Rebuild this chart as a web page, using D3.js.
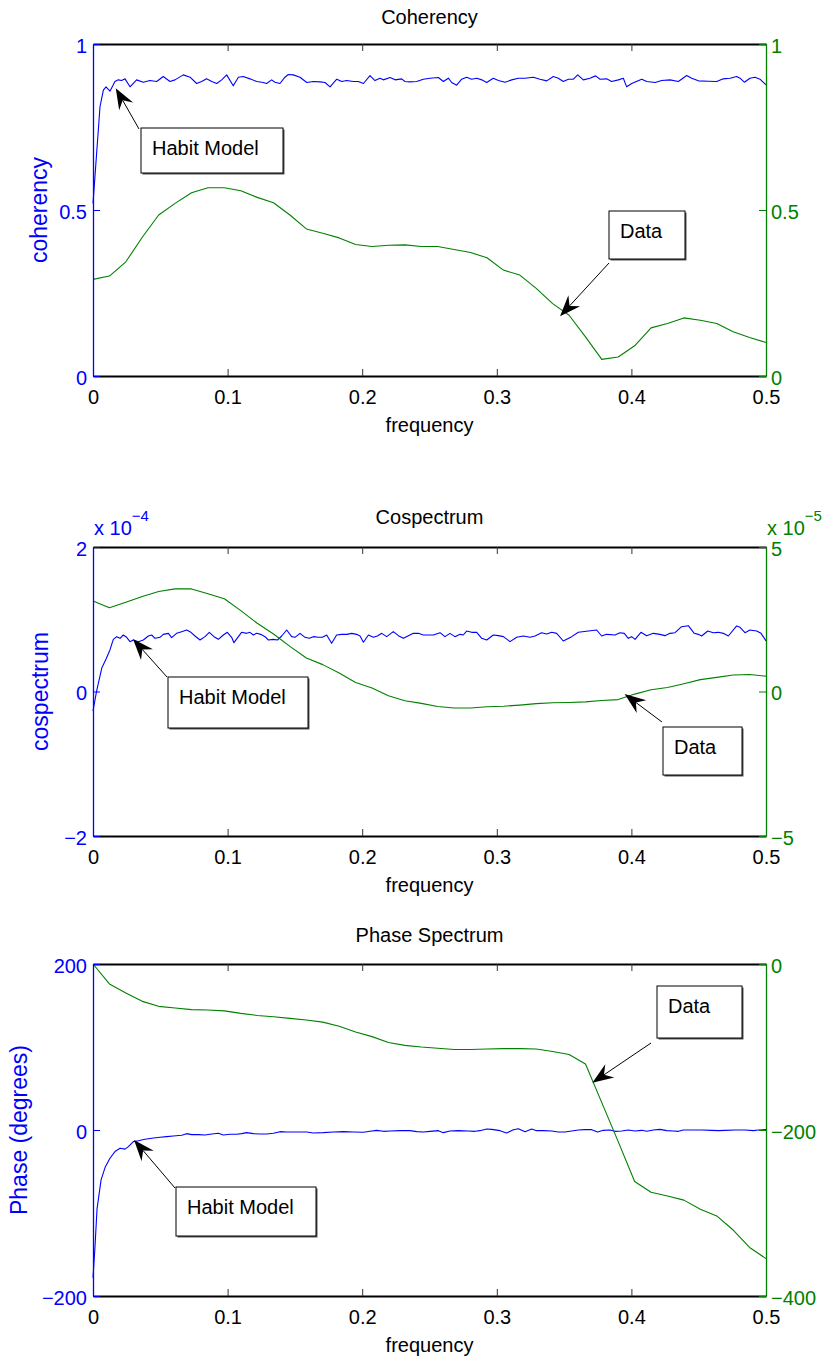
<!DOCTYPE html>
<html>
<head>
<meta charset="utf-8">
<script src="https://cdnjs.cloudflare.com/ajax/libs/d3/7.8.5/d3.min.js"></script>
<style>
  body { margin: 0; background: #fff; }
</style>
</head>
<body>
<div id="chart"></div>
<script>
var svgWidth = 822;
var svgHeight = 1364;
var margin = { left: 93, right: 56 };
var width = svgWidth - margin.left - margin.right;

var fontFamily = "Arial, 'Liberation Sans', Helvetica, sans-serif";
var blue = "#0000ff";
var green = "#008000";

// frequency grid of the "Data" (green) estimates
var dataFreq = [0, 0.0122, 0.0244, 0.0366, 0.0488, 0.0610, 0.0732, 0.0854, 0.0976, 0.1098,
  0.1220, 0.1341, 0.1463, 0.1585, 0.1707, 0.1829, 0.1951, 0.2073, 0.2195, 0.2317,
  0.2439, 0.2561, 0.2683, 0.2805, 0.2927, 0.3049, 0.3171, 0.3293, 0.3415, 0.3537,
  0.3659, 0.3780, 0.3902, 0.4024, 0.4146, 0.4268, 0.4390, 0.4512, 0.4634, 0.4756,
  0.4878, 0.5];

var xTicks = [0, 0.1, 0.2, 0.3, 0.4, 0.5];

// Coherency
var cohData = [0.291, 0.301, 0.344, 0.418, 0.485, 0.520, 0.552, 0.567, 0.567, 0.558,
  0.538, 0.522, 0.485, 0.443, 0.430, 0.416, 0.396, 0.390, 0.394, 0.395,
  0.390, 0.390, 0.381, 0.372, 0.356, 0.319, 0.304, 0.264, 0.218, 0.183,
  0.118, 0.050, 0.057, 0.091, 0.145, 0.158, 0.175, 0.168, 0.158, 0.133,
  0.116, 0.101];

var cohModel = [[0,0.52],[0.0052,0.811],[0.0077,0.861],[0.0097,0.871],[0.0126,0.858],[0.0163,0.887],
  [0.0188,0.892],[0.0213,0.890],[0.0238,0.895],[0.0275,0.871],[0.0324,0.892],[0.0374,0.885],
  [0.0423,0.890],[0.0473,0.887],[0.0522,0.902],[0.0572,0.887],[0.0609,0.892],[0.0671,0.907],
  [0.0721,0.900],[0.0770,0.881],[0.0807,0.887],[0.0844,0.895],[0.0882,0.887],[0.0919,0.881],
  [0.0956,0.892],[0.0993,0.907],[0.1042,0.874],[0.1080,0.900],[0.1117,0.902],[0.1166,0.895],
  [0.1216,0.887],[0.1265,0.884],[0.1290,0.881],[0.1327,0.892],[0.1352,0.885],[0.1389,0.881],
  [0.1426,0.900],[0.1451,0.908],[0.1488,0.907],[0.1538,0.900],[0.1588,0.884],[0.1637,0.887],
  [0.1687,0.886],[0.1724,0.884],[0.1761,0.871],[0.1811,0.894],[0.1848,0.887],[0.1885,0.890],
  [0.1934,0.887],[0.1971,0.887],[0.2009,0.881],[0.2058,0.905],[0.2095,0.890],[0.2132,0.897],
  [0.2157,0.892],[0.2207,0.899],[0.2244,0.892],[0.2293,0.895],[0.2318,0.887],[0.2355,0.886],
  [0.2405,0.887],[0.2454,0.894],[0.2504,0.897],[0.2566,0.899],[0.2603,0.887],[0.2640,0.897],
  [0.2665,0.884],[0.2702,0.876],[0.2739,0.894],[0.2776,0.900],[0.2813,0.894],[0.2851,0.897],
  [0.2888,0.892],[0.2925,0.884],[0.2974,0.897],[0.3012,0.890],[0.3061,0.885],[0.3111,0.892],
  [0.3160,0.897],[0.3210,0.897],[0.3271,0.900],[0.3321,0.894],[0.3371,0.889],[0.3420,0.902],
  [0.3457,0.897],[0.3494,0.887],[0.3532,0.894],[0.3569,0.894],[0.3601,0.907],[0.3643,0.892],
  [0.3692,0.897],[0.3734,0.904],[0.3767,0.894],[0.3816,0.895],[0.3853,0.887],[0.3903,0.892],
  [0.3940,0.897],[0.3965,0.871],[0.4002,0.881],[0.4077,0.894],[0.4114,0.887],[0.4176,0.884],
  [0.4225,0.890],[0.4287,0.892],[0.4349,0.887],[0.4411,0.905],[0.4448,0.897],[0.4498,0.889],
  [0.4572,0.888],[0.4634,0.887],[0.4683,0.895],[0.4733,0.897],[0.4782,0.902],[0.4807,0.897],
  [0.4839,0.885],[0.4881,0.897],[0.4918,0.900],[0.4955,0.894],[0.5,0.877]];

// Cospectrum (model in units of 1e-4, data in units of 1e-5)
var cospecData = [3.13, 2.90, 3.09, 3.29, 3.46, 3.55, 3.55, 3.38, 3.21, 2.80,
  2.36, 1.99, 1.56, 1.16, 0.93, 0.64, 0.31, 0.12, -0.15, -0.32,
  -0.41, -0.52, -0.57, -0.57, -0.53, -0.51, -0.47, -0.42, -0.39, -0.38,
  -0.36, -0.31, -0.28, -0.09, 0.06, 0.14, 0.27, 0.41, 0.49, 0.57,
  0.59, 0.53];

var cospecModel = [[0,-0.27],[0.0027,0.01],[0.0066,0.33],[0.0097,0.45],[0.0126,0.575],[0.0151,0.722],
  [0.0176,0.759],[0.0201,0.736],[0.0225,0.782],[0.0250,0.750],[0.0275,0.690],[0.0300,0.713],
  [0.0337,0.690],[0.0374,0.713],[0.0411,0.768],[0.0436,0.782],[0.0461,0.736],[0.0498,0.750],
  [0.0522,0.791],[0.0560,0.805],[0.0584,0.745],[0.0621,0.805],[0.0659,0.828],[0.0696,0.851],
  [0.0721,0.828],[0.0758,0.768],[0.0795,0.713],[0.0832,0.759],[0.0864,0.819],[0.0899,0.759],
  [0.0931,0.722],[0.0968,0.782],[0.0998,0.819],[0.1030,0.750],[0.1047,0.676],[0.1080,0.759],
  [0.1104,0.819],[0.1141,0.805],[0.1166,0.819],[0.1191,0.782],[0.1216,0.805],[0.1246,0.791],
  [0.1278,0.759],[0.1303,0.713],[0.1340,0.722],[0.1370,0.713],[0.1402,0.768],[0.1439,0.851],
  [0.1476,0.759],[0.1501,0.750],[0.1538,0.805],[0.1575,0.750],[0.1607,0.736],[0.1637,0.759],
  [0.1674,0.750],[0.1704,0.750],[0.1736,0.782],[0.1773,0.667],[0.1810,0.782],[0.1847,0.791],
  [0.1885,0.791],[0.1922,0.805],[0.1959,0.791],[0.1984,0.768],[0.2009,0.681],[0.2046,0.782],
  [0.2083,0.750],[0.2113,0.768],[0.2145,0.805],[0.2182,0.759],[0.2231,0.828],[0.2269,0.773],
  [0.2306,0.736],[0.2343,0.773],[0.2380,0.805],[0.2417,0.805],[0.2454,0.782],[0.2529,0.782],
  [0.2578,0.814],[0.2615,0.759],[0.2652,0.805],[0.2689,0.759],[0.2727,0.791],[0.2751,0.782],
  [0.2776,0.837],[0.2813,0.819],[0.2851,0.819],[0.2888,0.736],[0.2925,0.713],[0.2974,0.782],
  [0.3012,0.773],[0.3049,0.759],[0.3098,0.690],[0.3148,0.750],[0.3197,0.768],[0.3247,0.750],
  [0.3284,0.768],[0.3333,0.814],[0.3371,0.796],[0.3408,0.819],[0.3445,0.805],[0.3494,0.699],
  [0.3556,0.759],[0.3606,0.819],[0.3680,0.837],[0.3742,0.851],[0.3779,0.768],[0.3816,0.791],
  [0.3878,0.782],[0.3915,0.814],[0.3947,0.805],[0.3977,0.736],[0.4002,0.759],[0.4027,0.722],
  [0.4071,0.819],[0.4113,0.773],[0.4163,0.805],[0.4212,0.791],[0.4249,0.773],[0.4287,0.805],
  [0.4324,0.814],[0.4373,0.897],[0.4423,0.911],[0.4467,0.805],[0.4497,0.791],[0.4522,0.768],
  [0.4567,0.837],[0.4609,0.814],[0.4646,0.819],[0.4683,0.805],[0.4720,0.768],[0.4782,0.907],
  [0.4807,0.888],[0.4844,0.814],[0.4881,0.851],[0.4931,0.837],[0.4963,0.805],[0.5,0.70]];

// Phase spectrum (degrees)
var phaseData = [0, -24, -35, -45, -51, -53, -55, -55.5, -56.5, -59.5,
  -62, -63.5, -65.5, -67.5, -70, -75, -82, -87.5, -94.5, -98,
  -100, -101.5, -103, -103, -102.5, -102, -102, -102.5, -105.5, -109,
  -120.5, -167, -214, -262, -275, -279.5, -284.5, -295.5, -303.5, -320.5,
  -341.5, -355];

var phaseModel = [[0,-178],[0.0015,-140],[0.0030,-95],[0.0060,-60],[0.0090,-45],[0.0126,-34],
  [0.0163,-26],[0.0201,-22],[0.0238,-23],[0.0263,-20],[0.0287,-16],[0.0300,-14],[0.0337,-12.9],
  [0.0386,-11.2],[0.0436,-10.0],[0.0498,-8.8],[0.0547,-8.0],[0.0597,-7.2],[0.0659,-6.4],
  [0.0696,-4.4],[0.0733,-5.6],[0.0783,-5.6],[0.0832,-6.0],[0.0882,-4.8],[0.0931,-4.0],
  [0.0968,-6.0],[0.1018,-5.2],[0.1067,-5.2],[0.1104,-4.4],[0.1141,-3.2],[0.1191,-4.4],
  [0.1241,-4.8],[0.1290,-4.8],[0.1340,-4.0],[0.1389,-2.0],[0.1439,-2.4],[0.1513,-2.4],
  [0.1588,-2.4],[0.1637,-3.6],[0.1711,-3.2],[0.1786,-2.4],[0.1860,-2.0],[0.1934,-2.4],
  [0.2009,-2.8],[0.2058,-1.6],[0.2108,-0.4],[0.2157,-1.6],[0.2207,-1.2],[0.2281,-0.8],
  [0.2355,-0.8],[0.2405,-2.0],[0.2454,-2.4],[0.2504,-1.6],[0.2566,-0.8],[0.2603,-3.2],
  [0.2652,-1.2],[0.2714,-0.8],[0.2789,-1.2],[0.2838,-1.6],[0.2875,-0.8],[0.2925,1.2],
  [0.2962,0.8],[0.3024,-0.8],[0.3073,-3.6],[0.3123,0.4],[0.3160,1.6],[0.3210,-2.0],
  [0.3259,1.2],[0.3296,-0.8],[0.3346,-0.8],[0.3408,-1.2],[0.3457,-2.4],[0.3507,-2.4],
  [0.3556,-1.2],[0.3606,0],[0.3655,0.4],[0.3705,0.4],[0.3749,-2.4],[0.3791,-0.4],[0.3841,0],
  [0.3878,-1.6],[0.3928,-1.2],[0.3977,0],[0.4027,-1.2],[0.4077,-0.4],[0.4114,-1.6],[0.4163,0],
  [0.4213,0.8],[0.4262,-0.8],[0.4312,-1.2],[0.4349,-1.6],[0.4386,0],[0.4448,0],[0.4522,0],
  [0.4597,-0.4],[0.4646,-0.8],[0.4696,-0.4],[0.4770,0],[0.4844,0],[0.4906,-0.8],[0.4944,0],
  [0.5,0.4]];

// panel layout
var panels = [
  { title: "Coherency", top: 44, height: 332, titleDy: -20,
    yLabel: "coherency", yLabelX: 47,
    leftDomain: [0, 1], leftTicks: [0, 0.5, 1],
    rightDomain: [0, 1], rightTicks: [0, 0.5, 1],
    model: cohModel, data: cohData,
    notes: [
      { text: "Habit Model", axis: "left", tip: [0.0169, 0.867], tail: [46, 85], box: [48, 84, 142, 45] },
      { text: "Data", axis: "right", tip: [0.347, 0.18], tail: [516, 219], box: [516, 167, 76, 48] }
    ] },
  { title: "Cospectrum", top: 547, height: 289, titleDy: -23,
    yLabel: "cospectrum", yLabelX: 48,
    leftDomain: [-2, 2], leftTicks: [-2, 0, 2], leftExp: "−4",
    rightDomain: [-5, 5], rightTicks: [-5, 0, 5], rightExp: "−5",
    model: cospecModel, data: cospecData,
    notes: [
      { text: "Habit Model", axis: "left", tip: [0.0297, 0.727], tail: [74, 130], box: [75, 130, 140, 51] },
      { text: "Data", axis: "right", tip: [0.395, -0.09], tail: [569, 175], box: [570, 180, 79, 48] }
    ] },
  { title: "Phase Spectrum", top: 964, height: 332, titleDy: -22,
    yLabel: "Phase (degrees)", yLabelX: 27,
    leftDomain: [-200, 200], leftTicks: [-200, 0, 200],
    rightDomain: [-400, 0], rightTicks: [-400, -200, 0],
    model: phaseModel, data: phaseData,
    notes: [
      { text: "Data", axis: "right", tip: [0.371, -143], tail: [558, 79], box: [564, 22, 85, 52] },
      { text: "Habit Model", axis: "left", tip: [0.0305, -12], tail: [82, 224], box: [83, 223, 140, 49] }
    ] }
];

var svg = d3.select("#chart")
  .append("svg")
  .attr("width", svgWidth)
  .attr("height", svgHeight)
  .attr("font-family", fontFamily);

function fmt(d) {
  return d < 0 ? "\u2212" + Math.abs(d) : String(d);
}

function styleAxis(axisG, color, lineWidth) {
  axisG.attr("font-size", 20).attr("font-family", fontFamily);
  axisG.select(".domain").attr("stroke", color).attr("stroke-width", lineWidth);
  axisG.selectAll(".tick line").attr("stroke", color);
  axisG.selectAll(".tick text").attr("fill", color);
}

panels.forEach(function(p) {
  var h = p.height;
  var g = svg.append("g")
    .attr("transform", `translate(${margin.left}, ${p.top})`);

  var xScale = d3.scaleLinear().domain([0, 0.5]).range([0, width]);
  var yLeft = d3.scaleLinear().domain(p.leftDomain).range([h, 0]);
  var yRight = d3.scaleLinear().domain(p.rightDomain).range([h, 0]);

  // lines
  var modelLine = d3.line().x(d => xScale(d[0])).y(d => yLeft(d[1]));
  var dataLine = d3.line().x(d => xScale(d[0])).y(d => yRight(d[1]));

  g.append("path")
    .datum(p.model)
    .attr("d", modelLine)
    .attr("fill", "none")
    .attr("stroke", blue)
    .attr("stroke-width", 1.1)
    .attr("stroke-linejoin", "round");

  g.append("path")
    .datum(d3.zip(dataFreq, p.data))
    .attr("d", dataLine)
    .attr("fill", "none")
    .attr("stroke", green)
    .attr("stroke-width", 1.1)
    .attr("stroke-linejoin", "round");

  // x axes (bottom with labels, top only ticks)
  var xAxis = g.append("g")
    .attr("transform", `translate(0, ${h})`)
    .call(d3.axisBottom(xScale).tickValues(xTicks).tickFormat(fmt)
      .tickSizeInner(-7).tickSizeOuter(0).tickPadding(14));
  styleAxis(xAxis, "#000", 2);
  xAxis.selectAll(".tick line").attr("stroke", "#333");

  var topAxis = g.append("g")
    .call(d3.axisTop(xScale).tickValues(xTicks).tickFormat("")
      .tickSizeInner(-7).tickSizeOuter(0));
  styleAxis(topAxis, "#000", 2);
  topAxis.selectAll(".tick line").attr("stroke", "#333");

  // y axes
  var leftAxis = g.append("g")
    .call(d3.axisLeft(yLeft).tickValues(p.leftTicks).tickFormat(fmt)
      .tickSizeInner(-7).tickSizeOuter(0).tickPadding(6));
  styleAxis(leftAxis, blue, 1.3);
  leftAxis.selectAll(".tick text").attr("dy", "0.4em");

  var rightAxis = g.append("g")
    .attr("transform", `translate(${width}, 0)`)
    .call(d3.axisRight(yRight).tickValues(p.rightTicks).tickFormat(fmt)
      .tickSizeInner(-7).tickSizeOuter(0).tickPadding(5));
  styleAxis(rightAxis, green, 1.3);
  rightAxis.selectAll(".tick text").attr("dy", "0.4em");

  // exponent labels
  if (p.leftExp) {
    var le = g.append("text").attr("x", 1).attr("y", -12)
      .attr("font-size", 20).attr("fill", blue).text("x 10");
    le.append("tspan").attr("dy", -14).attr("font-size", 15).text(p.leftExp);
  }
  if (p.rightExp) {
    var re = g.append("text").attr("x", width + 1).attr("y", -12)
      .attr("font-size", 20).attr("fill", green).text("x 10");
    re.append("tspan").attr("dy", -14).attr("font-size", 15).text(p.rightExp);
  }

  // title and axis labels
  g.append("text")
    .attr("x", width / 2)
    .attr("y", p.titleDy)
    .attr("text-anchor", "middle")
    .attr("font-size", 20)
    .text(p.title);

  g.append("text")
    .attr("x", width / 2)
    .attr("y", h + 56)
    .attr("text-anchor", "middle")
    .attr("font-size", 20)
    .text("frequency");

  g.append("text")
    .attr("transform", `translate(${p.yLabelX - margin.left}, ${h / 2}) rotate(-90)`)
    .attr("text-anchor", "middle")
    .attr("font-size", 23)
    .attr("fill", blue)
    .text(p.yLabel);

  // annotation boxes with arrows
  p.notes.forEach(function(n) {
    var ys = n.axis === "left" ? yLeft : yRight;
    var tipX = xScale(n.tip[0]), tipY = ys(n.tip[1]);
    var tx = n.tail[0], ty = n.tail[1];
    var dx = tipX - tx, dy = tipY - ty;
    var len = Math.sqrt(dx * dx + dy * dy);
    var ux = dx / len, uy = dy / len;
    var nx = -uy, ny = ux;
    var headLen = 21, headW = 8, notch = 14;

    g.append("line")
      .attr("x1", tx).attr("y1", ty)
      .attr("x2", tipX - ux * notch).attr("y2", tipY - uy * notch)
      .attr("stroke", "#000").attr("stroke-width", 1);

    g.append("path")
      .attr("d", `M${tipX},${tipY}` +
        `L${tipX - ux * headLen + nx * headW},${tipY - uy * headLen + ny * headW}` +
        `L${tipX - ux * notch},${tipY - uy * notch}` +
        `L${tipX - ux * headLen - nx * headW},${tipY - uy * headLen - ny * headW}Z`)
      .attr("fill", "#000");

    var b = n.box;
    g.append("rect")
      .attr("x", b[0] + 1.5).attr("y", b[1] + 1.5)
      .attr("width", b[2]).attr("height", b[3])
      .attr("fill", "#555");
    g.append("rect")
      .attr("x", b[0]).attr("y", b[1])
      .attr("width", b[2]).attr("height", b[3])
      .attr("fill", "#fff")
      .attr("stroke", "#000").attr("stroke-width", 1);
    g.append("text")
      .attr("x", b[0] + 11)
      .attr("y", b[1] + 27)
      .attr("font-size", 20)
      .text(n.text);
  });
});
</script>
</body>
</html>
